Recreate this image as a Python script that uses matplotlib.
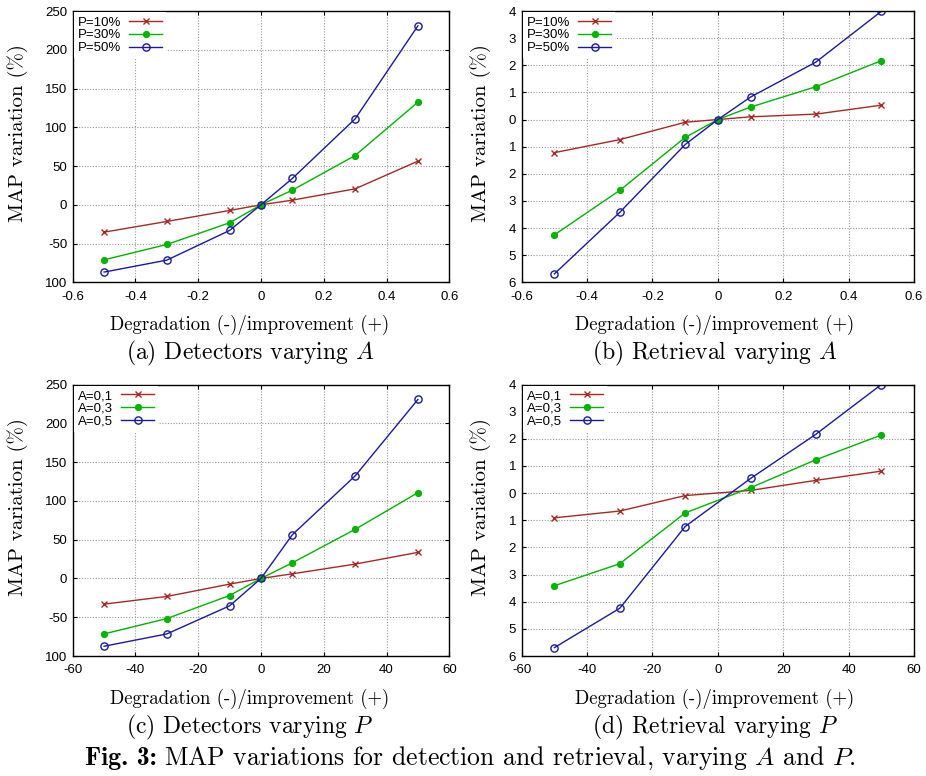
import matplotlib
matplotlib.use('Agg')
import matplotlib.pyplot as plt
from matplotlib.ticker import MultipleLocator

plt.rcParams['mathtext.fontset'] = 'cm'
plt.rcParams['axes.unicode_minus'] = False

# ----- data -----
x_frac = [-0.5, -0.3, -0.1, 0.0, 0.1, 0.3, 0.5]
x_pct = [-50, -30, -10, 0, 10, 30, 50]
x_pct_d = [-50, -30, -10, 10, 30, 50]

labels_P = ['P=10%', 'P=30%', 'P=50%']
labels_A = ['A=0,1', 'A=0,3', 'A=0,5']

det_A_p10 = [-35.3, -21.5, -7.3, 0, 6.0, 20.6, 56.3]
det_A_p30 = [-71.0, -51.2, -23.2, 0, 18.9, 63.6, 132.4]
det_A_p50 = [-86.8, -71.4, -33.1, 0, 34.0, 110.9, 230.9]

ret_A_p10 = [-1.22, -0.74, -0.10, 0, 0.10, 0.20, 0.53]
ret_A_p30 = [-4.25, -2.61, -0.66, 0, 0.46, 1.21, 2.17]
ret_A_p50 = [-5.69, -3.42, -0.92, 0, 0.83, 2.12, 3.99]

det_P_a1 = [-33.1, -23.2, -7.3, 0, 6.0, 18.5, 33.6]
det_P_a3 = [-71.5, -51.7, -22.0, 0, 20.2, 63.3, 110.6]
det_P_a5 = [-87.4, -71.5, -35.3, 0, 56.4, 132.2, 230.7]

ret_P_a1 = [-0.91, -0.66, -0.09, 0.10, 0.47, 0.81]
ret_P_a3 = [-3.41, -2.60, -0.73, 0.20, 1.23, 2.14]
ret_P_a5 = [-5.69, -4.24, -1.23, 0.54, 2.17, 4.00]

colors = ['#a82828', '#00b400', '#1a1aa0']
markers = [dict(marker='x', ms=5, mew=1.0),
           dict(marker='o', ms=4.2, mfc='#00b400', mew=1.0),
           dict(marker='o', ms=5.2, mfc='none', mew=1.0)]

fig = plt.figure(figsize=(9.26, 7.76), dpi=100)
W, H = 926, 776

boxes = [
    [0.0785, 0.6362, 0.4067, 0.3496],
    [0.5634, 0.6362, 0.4237, 0.3496],
    [0.0785, 0.1546, 0.4067, 0.3499],
    [0.5634, 0.1546, 0.4237, 0.3499],
]

panels = [
    (x_frac, [det_A_p10, det_A_p30, det_A_p50], labels_P, (-0.6, 0.6), 0.2, (-100, 250), 50),
    (x_frac, [ret_A_p10, ret_A_p30, ret_A_p50], labels_P, (-0.6, 0.6), 0.2, (-6, 4), 1),
    (x_pct, [det_P_a1, det_P_a3, det_P_a5], labels_A, (-60, 60), 20, (-100, 250), 50),
    (x_pct_d, [ret_P_a1, ret_P_a3, ret_P_a5], labels_A, (-60, 60), 20, (-6, 4), 1),
]

for i, (box, (xs, series, labels, xlim, xstep, ylim, ystep)) in enumerate(zip(boxes, panels)):
    ax = fig.add_axes(box)
    for ys, lab, c, mk in zip(series, labels, colors, markers):
        ax.plot(xs, ys, color=c, lw=1.0, label=lab, **mk)
    ax.set_xlim(*xlim)
    ax.set_ylim(*ylim)
    ax.xaxis.set_major_locator(MultipleLocator(xstep))
    ax.yaxis.set_major_locator(MultipleLocator(ystep))
    ax.grid(True, color='#9a9a9a', linestyle=(0, (1, 1.5)), linewidth=0.8)
    ax.tick_params(direction='in', length=3, width=0.8, top=True, right=True, pad=4)
    ax.tick_params(axis='x', pad=6)
    for sp in ax.spines.values():
        sp.set_linewidth(1.0)

    # tick labels as printed in the original (minus signs dropped on some)
    xt = ax.get_xticks()
    if xstep < 1:
        ax.set_xticks(xt, ['%g' % round(v, 1) for v in xt])
    else:
        ax.set_xticks(xt, ['%d' % round(v) for v in xt])
    yt = ax.get_yticks()
    if ystep == 1:
        ylabs = ['%d' % abs(round(v)) for v in yt]
    else:
        ylabs = ['100' if round(v) == -100 else '%d' % round(v) for v in yt]
    ax.set_yticks(yt, ylabs)
    ax.set_xlim(*xlim)
    ax.set_ylim(*ylim)
    for t in ax.get_xticklabels() + ax.get_yticklabels():
        t.set_fontfamily('Liberation Sans')
        t.set_fontsize(9.5)

    ax.set_ylabel('MAP variation (%)', family='cmr10', fontsize=15)
    if i % 2 == 0:
        ax.yaxis.set_label_coords(-0.118, 0.55)
    else:
        ax.yaxis.set_label_coords(-0.078, 0.55)

    leg = ax.legend(loc='upper left', markerfirst=False, frameon=True,
                    prop=dict(family='Liberation Sans', size=9.5),
                    handlelength=2.5, handletextpad=0.6, labelspacing=0.05,
                    borderaxespad=0.1, borderpad=0.3, fancybox=False)
    leg.get_frame().set_edgecolor('none')
    leg.get_frame().set_facecolor('white')
    leg.get_frame().set_alpha(1.0)

xl = 'Degradation (-)/improvement (+)'
for x, y in [(0.270, 0.581), (0.772, 0.581), (0.270, 0.099), (0.772, 0.099)]:
    fig.text(x, y, xl, ha='center', va='center', family='cmr10', fontsize=13.5)

fig.text(0.270, 0.545, '(a) Detectors varying $A$', ha='center', va='center', family='cmr10', fontsize=17)
fig.text(0.772, 0.545, '(b) Retrieval varying $A$', ha='center', va='center', family='cmr10', fontsize=17)
fig.text(0.270, 0.063, '(c) Detectors varying $P$', ha='center', va='center', family='cmr10', fontsize=17)
fig.text(0.772, 0.063, '(d) Retrieval varying $P$', ha='center', va='center', family='cmr10', fontsize=17)

# figure caption: bold lead-in followed by regular text, centred as one line
cap_y = 0.014
t1 = fig.text(0, cap_y, 'Fig. 3:', family='cmb10', fontsize=18.5, va='baseline')
t2 = fig.text(0, cap_y, 'MAP variations for detection and retrieval, varying $A$ and $P$.',
              family='cmr10', fontsize=18.5, va='baseline')
r = fig.canvas.get_renderer()
w1 = t1.get_window_extent(r).width
w2 = t2.get_window_extent(r).width
gap = 7
x0 = 0.508 * W - (w1 + gap + w2) / 2
t1.set_x(x0 / W)
t2.set_x((x0 + w1 + gap) / W)

fig.savefig('out.png', dpi=100)
